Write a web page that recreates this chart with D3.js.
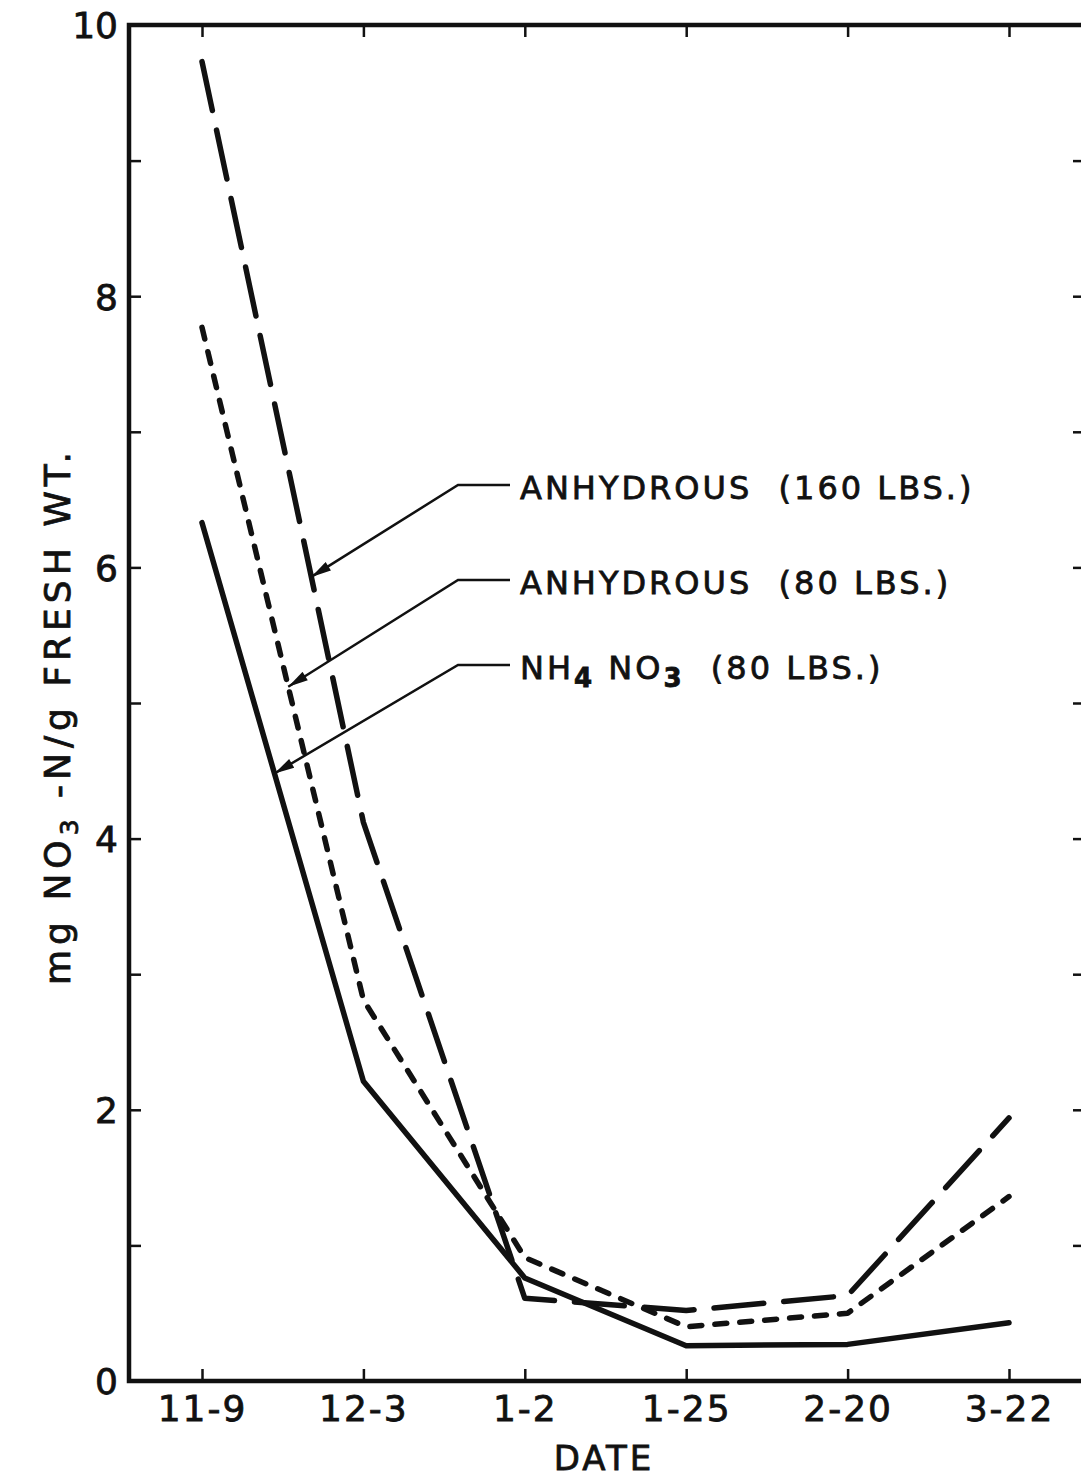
<!DOCTYPE html>
<html>
<head>
<meta charset="utf-8">
<script src="https://cdn.jsdelivr.net/npm/d3@7"></script>
<style>
  html, body { margin: 0; padding: 0; background: #fff; }
  svg { display: block; }
  text { font-family: "DejaVu Sans", sans-serif; fill: #111; stroke: #111; stroke-width: 0.8px; }
</style>
</head>
<body>
<svg id="chart" width="1081" height="1481"></svg>
<script>
// Sampling dates (x categories)
const categories = ["11-9", "12-3", "1-2", "1-25", "2-20", "3-22"];

// mg NO3-N per g fresh weight, by treatment
const anhydrous160 = [9.73, 4.12, 0.61, 0.52, 0.63, 1.94];
const anhydrous80 = [7.77, 2.81, 0.91, 0.40, 0.50, 1.36];
const ammoniumNitrate80 = [6.33, 2.21, 0.76, 0.26, 0.27, 0.43];

// Axis ticks
const yTickValues = [0, 1, 2, 3, 4, 5, 6, 7, 8, 9, 10];
const yTickLabels = [0, 2, 4, 6, 8, 10];

// Value on each curve (first segment) where its label arrow points
const arrowValues = [5.93, 5.12, 4.48];

const svg = d3.select("#chart");

const plot = { left: 129, top: 25, right: 1085, bottom: 1381 };

const x = d3.scalePoint().domain(categories).range([202, 1009]);
const y = d3.scaleLinear().domain([0, 10]).range([plot.bottom, plot.top]);

const fmt = d => (yTickLabels.includes(d) ? String(d) : "");

// Left axis: inward ticks, labels on even values
const gLeft = svg.append("g").attr("transform", `translate(${plot.left},0)`)
  .call(d3.axisLeft(y).tickValues(yTickValues).tickFormat(fmt)
    .tickSizeInner(-12).tickSizeOuter(0).tickPadding(11));
gLeft.select(".domain").remove();
gLeft.selectAll(".tick line").attr("stroke", "#111").attr("stroke-width", 2.5);
gLeft.selectAll(".tick text").attr("font-size", 36).attr("dy", "0.36em").attr("fill", "#111");

// Right axis: inward ticks only
const gRight = svg.append("g").attr("transform", `translate(${plot.right},0)`)
  .call(d3.axisLeft(y).tickValues(yTickValues).tickFormat("").tickSizeInner(12).tickSizeOuter(0));
gRight.select(".domain").remove();
gRight.selectAll(".tick line").attr("stroke", "#111").attr("stroke-width", 2.5);

// Bottom axis
const gBottom = svg.append("g").attr("transform", `translate(0,${plot.bottom})`)
  .call(d3.axisBottom(x).tickSizeInner(-12).tickSizeOuter(0).tickPadding(14));
gBottom.select(".domain").remove();
gBottom.selectAll(".tick line").attr("stroke", "#111").attr("stroke-width", 2.5);
gBottom.selectAll(".tick text").attr("font-size", 36).attr("letter-spacing", 2).attr("fill", "#111");

// Top axis
const gTop = svg.append("g").attr("transform", `translate(0,${plot.top})`)
  .call(d3.axisTop(x).tickFormat("").tickSizeInner(-12).tickSizeOuter(0));
gTop.select(".domain").remove();
gTop.selectAll(".tick line").attr("stroke", "#111").attr("stroke-width", 2.5);

// Frame
svg.append("path")
  .attr("d", `M${plot.right},${plot.top} H${plot.left} V${plot.bottom} H${plot.right} Z`)
  .attr("fill", "none").attr("stroke", "#111").attr("stroke-width", 4.5);

// Series
const series = [
  { values: anhydrous160, dash: "50,20" },
  { values: anhydrous80, dash: "12,13" },
  { values: ammoniumNitrate80, dash: null }
];

const line = d3.line().x((d, i) => x(categories[i])).y(d => y(d));

svg.append("g").selectAll("path").data(series).join("path")
  .attr("d", d => line(d.values))
  .attr("fill", "none")
  .attr("stroke", "#111")
  .attr("stroke-width", 5.5)
  .attr("stroke-linecap", "round")
  .attr("stroke-linejoin", "round")
  .attr("stroke-dasharray", d => d.dash);

// Arrowhead marker
svg.append("defs").append("marker")
  .attr("id", "arrow")
  .attr("markerUnits", "userSpaceOnUse")
  .attr("viewBox", "0 0 20 10")
  .attr("refX", 20).attr("refY", 5)
  .attr("markerWidth", 22).attr("markerHeight", 10)
  .attr("orient", "auto")
  .append("path").attr("d", "M0,0 L20,5 L0,10 Z").attr("fill", "#111");

// Point on a series' first segment at a given value
function pointOn(values, v) {
  const t = (values[0] - v) / (values[0] - values[1]);
  const x0 = x(categories[0]), x1 = x(categories[1]);
  return [x0 + t * (x1 - x0), y(v)];
}

// Labels with leader lines
const labels = [
  { parts: [["ANHYDROUS  (160 LBS.)", false]], baseline: 499 },
  { parts: [["ANHYDROUS  (80 LBS.)", false]], baseline: 594 },
  { parts: [["NH", false], ["4", true], [" NO", false], ["3", true], ["  (80 LBS.)", false]], baseline: 679 }
];

labels.forEach((lab, i) => {
  const ly = lab.baseline - 14;
  const [tx, ty] = pointOn(series[i].values, arrowValues[i]);
  svg.append("path")
    .attr("d", `M510,${ly} H458 L${tx},${ty}`)
    .attr("fill", "none").attr("stroke", "#111").attr("stroke-width", 2.5)
    .attr("marker-end", "url(#arrow)");

  const t = svg.append("text")
    .attr("x", 520).attr("y", lab.baseline)
    .attr("font-size", 32).attr("letter-spacing", 3)
    .style("white-space", "pre");
  lab.parts.forEach(([s, sub], j) => {
    const prevSub = j > 0 ? lab.parts[j - 1][1] : false;
    const ts = t.append("tspan").text(s);
    if (sub) ts.attr("font-size", 26).attr("font-weight", "bold");
    ts.attr("dy", sub && !prevSub ? 8 : (!sub && prevSub ? -8 : 0));
  });
});

// Y axis title
const yt = svg.append("text")
  .attr("transform", "translate(70,716) rotate(-90)")
  .attr("text-anchor", "middle")
  .attr("font-size", 36)
  .attr("letter-spacing", 5)
  .style("white-space", "pre");
yt.append("tspan").text("mg NO");
yt.append("tspan").text("3").attr("font-size", 25).attr("dy", 8);
yt.append("tspan").text(" -N/g FRESH WT.").attr("dy", -8);

// X axis title
svg.append("text")
  .attr("x", 604).attr("y", 1470)
  .attr("text-anchor", "middle")
  .attr("font-size", 34)
  .attr("letter-spacing", 3)
  .text("DATE");
</script>
</body>
</html>
